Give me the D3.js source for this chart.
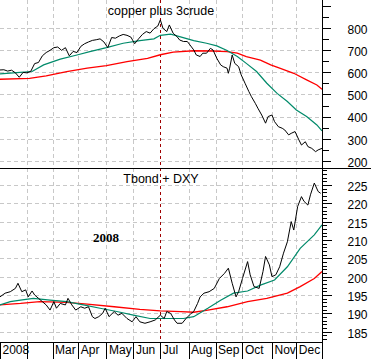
<!DOCTYPE html>
<html><head><meta charset="utf-8">
<script src="https://cdn.jsdelivr.net/npm/d3@7"></script>
<style>
html,body{margin:0;padding:0;background:#fff;}
svg{display:block;}
</style></head>
<body>
<svg id="c" width="371" height="359"></svg>
<script>
// ---- x axis (trading-day index in 2008) ----
const monthStarts = [0,21,41,61,83,104,125,147,168,189,212,231];
const monthLabels = ["2008","","Mar","Apr","May","Jun","Jul","Aug","Sep","Oct","Nov","Dec"];
const markerDay = 125;

// ---- top panel: copper plus 3crude ----
const copperDays = [0,3,6,9,12,15,18,21,24,27,30,33,36,39,42,45,48,51,54,57,60,63,66,69,72,75,78,81,84,87,90,93,96,99,102,105,108,111,114,117,120,123,
  125,127,130,132,135,138,140,143,146,148,151,153,156,158,161,164,166,169,172,174,177,178,179,181,183,186,188,191,194,196,199,201,204,207,209,212,214,217,220,222,225,227,230,233,235,238,240,243,246,248,251];
const copperVals = [611,612,606,610,598,578,600,598,605,640,645,675,690,700,712,715,700,712,675,695,690,718,730,738,745,748,752,738,712,758,755,765,772,768,760,730,752,772,785,778,798,810,
  838,800,785,815,777,762,747,740,740,725,702,679,672,687,687,709,702,664,634,626,619,596,619,679,641,626,589,551,513,490,460,438,407,370,400,407,377,354,347,339,317,324,332,294,271,286,264,256,241,249,256];
const copperGreenDays = [0,13,25,34,47,60,70,83,96,109,120,125,133,140,151,161,169,177,185,192,200,208,216,224,231,239,247,251];
const copperGreenVals = [593,599,604,634,660,679,694,712,732,744,752,768,773,762,744,732,720,699,672,641,604,551,505,468,430,400,362,335];
const copperRedDays = [0,23,36,52,68,83,99,115,125,135,151,166,177,185,192,203,211,218,229,239,247,251];
const copperRedVals = [569,573,584,604,619,631,649,664,680,692,698,697,694,687,672,656,634,619,596,566,543,524];
const topTicksMajor = [200,300,400,500,600,700,800,900];
const topTickLabels = ["200","300","400","500","600","700","800",""];
const topTicksMinor = [250,350,450,550,650,750,850];

// ---- bottom panel: Tbond + DXY ----
const tbondDays = [0,4,8,12,14,17,20,22,25,27,30,33,36,39,42,44,47,51,53,56,59,63,66,69,72,74,77,80,82,85,89,92,95,99,103,106,109,113,117,121,125,128,130,133,136,138,142,145,149,151,154,156,159,163,167,171,175,178,181,184,186,189,193,195,198,202,205,207,210,212,215,218,221,224,227,229,232,235,237,240,242,245,248,250];
const tbondVals = [194.5,195.5,195.9,196.8,198.2,195.9,196.4,194.5,196.1,195,194.1,193.2,192.3,190.9,193.2,191.4,192.7,192.3,194.1,192.3,190.9,191.8,191.4,191.8,189.1,188.6,189.1,190,191.4,189.1,190.5,189.5,190,188.6,187.7,189.1,187.7,187.3,187.7,188.2,189.5,188.6,190.5,190,188.2,187.3,187.3,188.6,190,190.5,192.7,194.5,195.5,195.9,196.8,199.5,200.9,202.3,198.2,194.5,195.9,199.5,204.1,200.5,197.3,196.8,201.4,205.5,203.2,200,200.5,202.7,206.4,209.5,215,212.7,219.1,221.8,220.5,219.5,222.3,225.5,223.2,222.7];
const tbondGreenDays = [0,8,16,26,39,52,65,78,91,104,117,130,143,151,162,172,182,193,203,214,224,234,245,251];
const tbondGreenVals = [192.3,193.2,193.6,194.1,193.6,193.2,192.3,191.4,190.5,189.5,188.6,188.6,188.6,189.1,191.4,193.6,195.5,196.1,197.7,199.1,202.7,207.7,211.4,214.1];
const tbondRedDays = [0,16,31,52,68,89,109,125,141,151,162,177,193,208,224,234,245,251];
const tbondRedVals = [192.3,192.7,193.2,193,192.5,191.8,191.1,190.7,190.5,190.3,190.9,191.8,193.2,194.1,195.5,197.3,199.5,201.4];
const botTicksMajor = [185,190,195,200,205,210,215,220,225];
const botTicksMinor = d3.range(183,230).filter(v => v % 5 !== 0);

const FONT = "Arial,'Liberation Sans',sans-serif";
const svg = d3.select("#c");
const plotR = 322, topH = 168, botB = 342;
const x = d3.scaleLinear().domain([0,251]).range([0,plotR]);
const yTop = d3.scaleLinear().domain([167,928]).range([topH,0]);
const yBot = d3.scaleLinear().domain([182.2,229.6]).range([botB,topH]);

const grid = svg.append("g").attr("stroke","#c8c8c8").attr("stroke-dasharray","4,3").attr("shape-rendering","crispEdges");
topTicksMajor.filter(v=>v<=800).forEach(v=>{
  grid.append("line").attr("x1",0).attr("x2",plotR).attr("y1",Math.round(yTop(v))+0.5).attr("y2",Math.round(yTop(v))+0.5);
});
botTicksMajor.forEach(v=>{
  grid.append("line").attr("x1",0).attr("x2",plotR).attr("y1",Math.round(yBot(v))+0.5).attr("y2",Math.round(yBot(v))+0.5);
});
monthStarts.filter(d=>d>0 && d!==markerDay).forEach(d=>{
  grid.append("line").attr("x1",Math.round(x(d))+0.5).attr("x2",Math.round(x(d))+0.5).attr("y1",0).attr("y2",botB);
});
svg.append("line").attr("x1",Math.round(x(markerDay))+0.5).attr("x2",Math.round(x(markerDay))+0.5)
  .attr("y1",0).attr("y2",botB).attr("stroke","#a00000").attr("stroke-dasharray","3,3").attr("shape-rendering","crispEdges");

function series(days, vals, ys, color, w){
  const data = days.map((d,i)=>[d, vals[i]]);
  svg.append("path").datum(data)
    .attr("fill","none").attr("stroke",color).attr("stroke-width",w)
    .attr("d", d3.line().x(p=>x(p[0])).y(p=>ys(p[1])));
}
series(copperRedDays, copperRedVals, yTop, "#ff0000", 1.3);
series(copperGreenDays, copperGreenVals, yTop, "#008a6a", 1.2);
series(copperDays, copperVals, yTop, "#000000", 1);
series(tbondRedDays, tbondRedVals, yBot, "#ff0000", 1.3);
series(tbondGreenDays, tbondGreenVals, yBot, "#008a6a", 1.2);
series(tbondDays, tbondVals, yBot, "#000000", 1);

// right axes
const axT = svg.append("g").attr("transform",`translate(${plotR+0.5},0)`);
axT.call(d3.axisRight(yTop).tickValues(topTicksMinor).tickSize(6).tickFormat(""));
const axT2 = svg.append("g").attr("transform",`translate(${plotR+0.5},0)`);
axT2.call(d3.axisRight(yTop).tickValues(topTicksMajor).tickSize(8).tickPadding(17)
  .tickFormat((d,i)=>topTickLabels[i]));
const axB = svg.append("g").attr("transform",`translate(${plotR+0.5},0)`);
axB.call(d3.axisRight(yBot).tickValues(botTicksMinor).tickSize(4).tickFormat(""));
const axB2 = svg.append("g").attr("transform",`translate(${plotR+0.5},0)`);
axB2.call(d3.axisRight(yBot).tickValues(botTicksMajor).tickSize(9).tickPadding(16));
svg.selectAll(".domain").remove();
svg.selectAll(".tick line").attr("shape-rendering","crispEdges").attr("stroke","#000");
[axT2,axB2].forEach(a=>a.selectAll("text").attr("font-size",12).attr("font-family",FONT).attr("fill","#000").attr("dy","0.45em"));

svg.append("line").attr("x1",plotR+0.5).attr("x2",plotR+0.5).attr("y1",0).attr("y2",359).attr("stroke","#000").attr("shape-rendering","crispEdges");
svg.append("line").attr("x1",0).attr("x2",371).attr("y1",topH+0.5).attr("y2",topH+0.5).attr("stroke","#000").attr("shape-rendering","crispEdges");

// bottom x axis
const axX = svg.append("g").attr("transform",`translate(0,${botB+0.5})`);
axX.call(d3.axisBottom(x).tickValues(monthStarts).tickSize(17).tickFormat((d,i)=>monthLabels[i]));
axX.select(".domain").remove();
axX.append("line").attr("x1",0).attr("x2",plotR).attr("y1",0).attr("y2",0).attr("stroke","#000").attr("shape-rendering","crispEdges");
axX.selectAll(".tick line").attr("stroke","#000").attr("shape-rendering","crispEdges");
axX.selectAll(".tick text").attr("text-anchor","start").attr("x",2).attr("y",3).attr("dy","0.71em")
  .attr("font-size",12).attr("font-family",FONT).attr("fill","#000");

// titles
svg.append("text").attr("x",161).attr("y",15).attr("text-anchor","middle").attr("font-family",FONT).attr("font-size",12.5).attr("fill","#000").text("copper plus 3crude");
svg.append("text").attr("x",161).attr("y",183).attr("text-anchor","middle").attr("font-family",FONT).attr("font-size",12.5).attr("fill","#000").text("Tbond + DXY");
svg.append("text").attr("x",93).attr("y",242).attr("font-family","'Liberation Serif','Times New Roman',serif").attr("font-weight","bold").attr("font-size",13).attr("fill","#000").text("2008");
</script>
</body></html>
